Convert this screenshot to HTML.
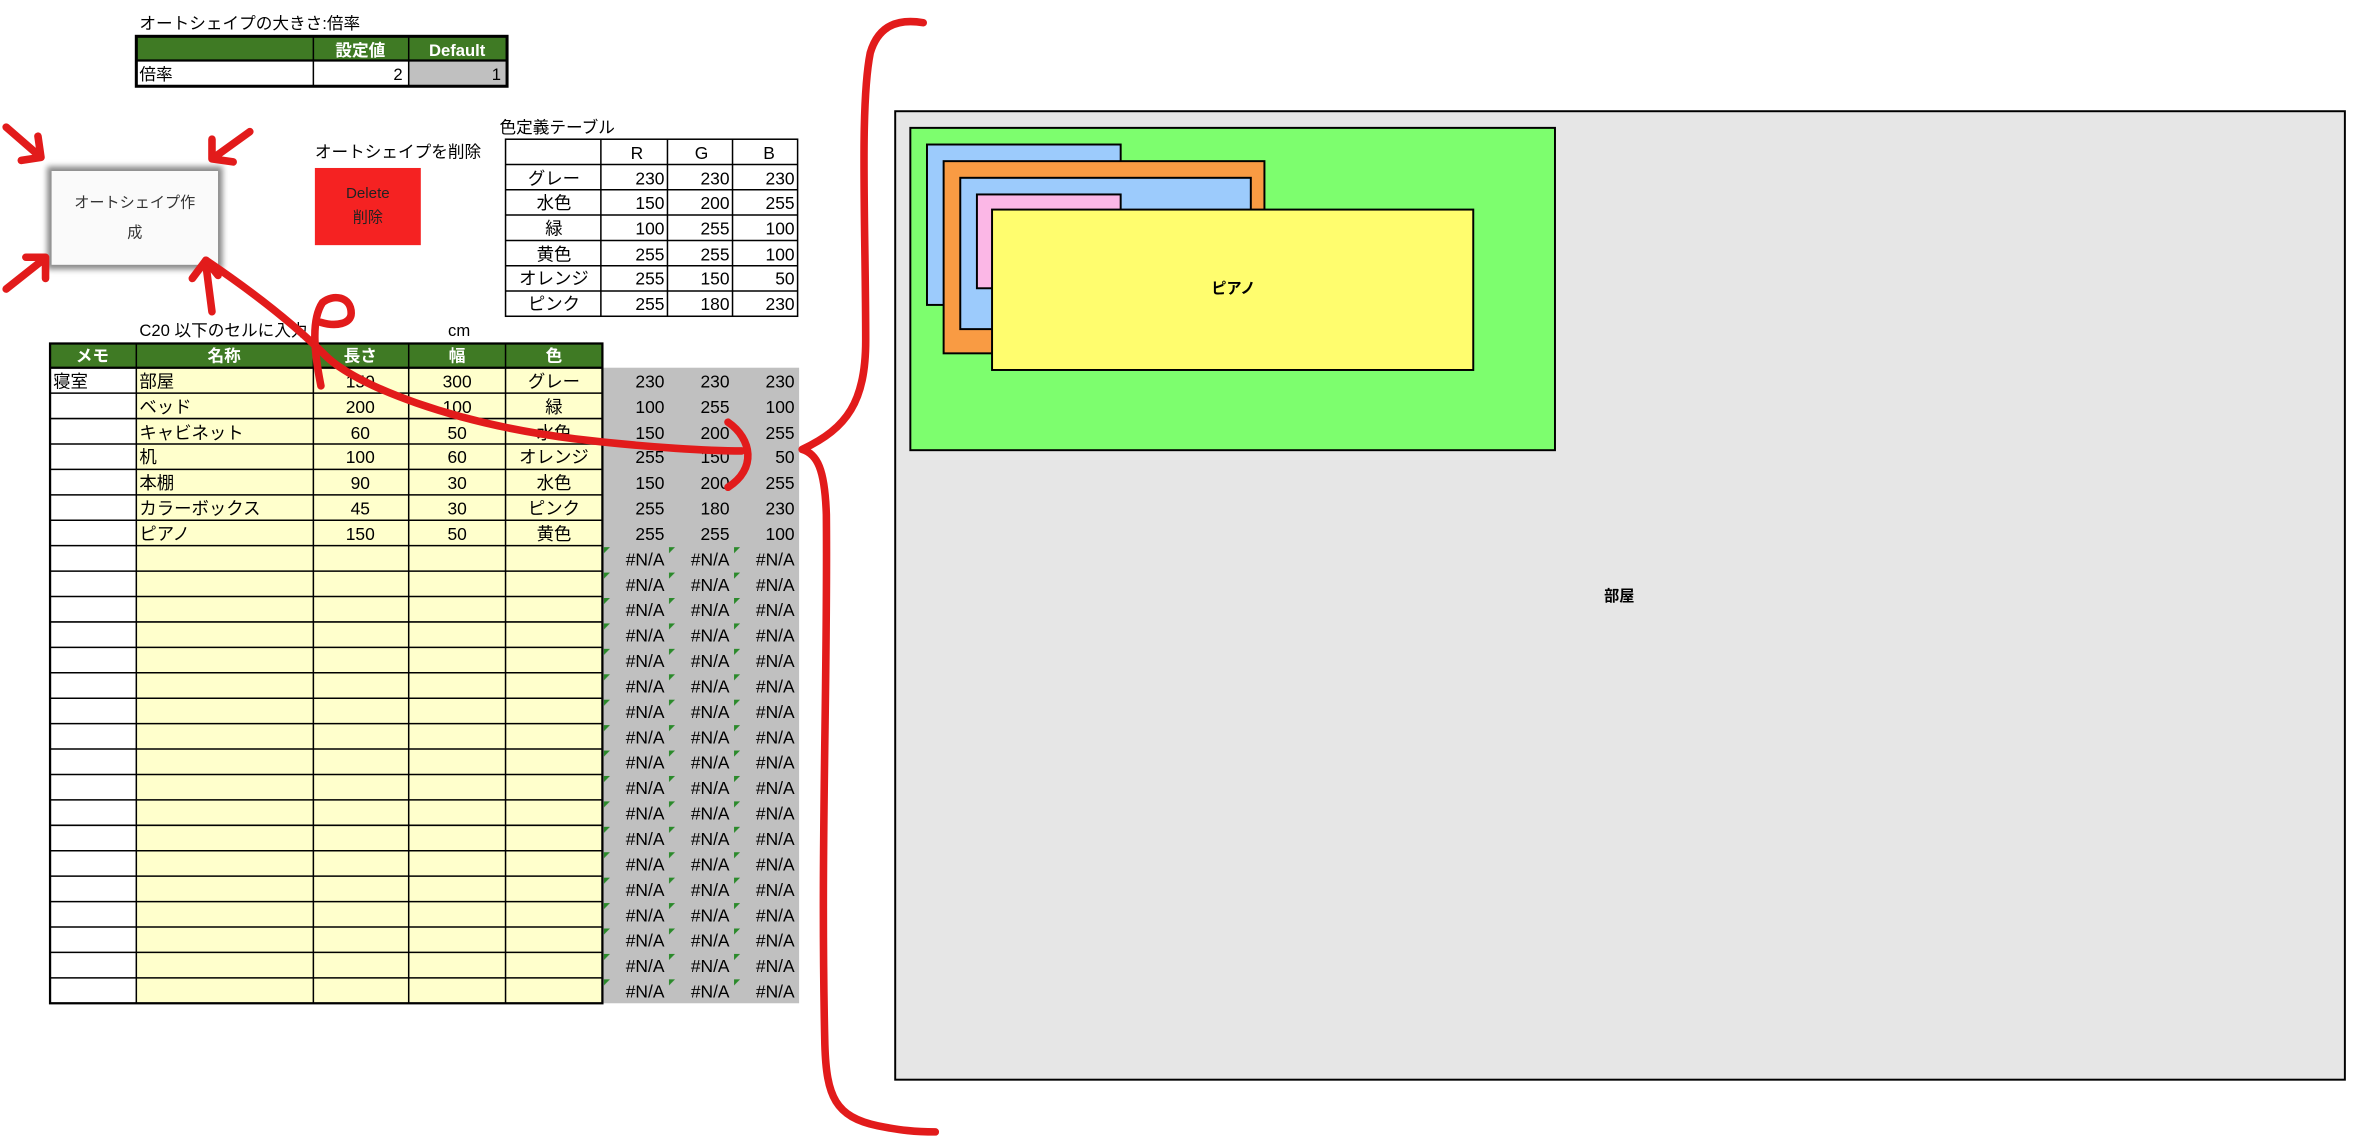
<!DOCTYPE html>
<html><head><meta charset="utf-8">
<style>
html,body{margin:0;padding:0;background:#fff;}
svg{display:block;font-family:"Liberation Sans","Noto Sans CJK JP",sans-serif;}
</style></head>
<body>
<svg width="2373" height="1144" viewBox="0 0 1568 756" xmlns="http://www.w3.org/2000/svg">
<defs>
<filter id="sh" x="-20%" y="-20%" width="140%" height="140%"><feGaussianBlur stdDeviation="2"/></filter>
<pattern id="tri" x="398" y="360.6" width="43" height="16.8" patternUnits="userSpaceOnUse">
<path d="M1 1h4l-4 4z" fill="#2a8a2a"/>
</pattern>
</defs>
<rect width="1568" height="756" fill="#fff"/>

<!-- Table 1 -->
<text x="92" y="19" font-size="11">オートシェイプの大きさ:倍率</text>
<rect x="90" y="24" width="245" height="16" fill="#3f7a24"/>
<rect x="270" y="40" width="65" height="17" fill="#c0c0c0"/>
<g stroke="#000" fill="none">
<rect x="90" y="24" width="245" height="33" stroke-width="2"/>
<line x1="90" y1="40" x2="335" y2="40" stroke-width="1.5"/>
<line x1="207" y1="24" x2="207" y2="57"/>
<line x1="270" y1="24" x2="270" y2="57"/>
</g>
<text x="238" y="37" font-size="11" fill="#fff" font-weight="bold" text-anchor="middle">設定値</text>
<text x="302" y="37" font-size="11" fill="#fff" font-weight="bold" text-anchor="middle">Default</text>
<text x="92" y="53" font-size="11">倍率</text>
<text x="266" y="53" font-size="11" text-anchor="end">2</text>
<text x="331" y="53" font-size="11" text-anchor="end">1</text>

<!-- Autoshape button -->
<rect x="31" y="110" width="116" height="68" fill="#888" filter="url(#sh)"/>
<rect x="34" y="113" width="110" height="62" fill="#fafafa"/>
<text x="89" y="137" font-size="10" text-anchor="middle" fill="#333">オートシェイプ作</text>
<text x="89" y="157" font-size="10" text-anchor="middle" fill="#333">成</text>

<!-- Delete -->
<text x="208" y="104" font-size="11">オートシェイプを削除</text>
<rect x="208" y="111" width="70" height="51" fill="#f52222"/>
<text x="243" y="131" font-size="10" text-anchor="middle" fill="#222">Delete</text>
<text x="243" y="147" font-size="10" text-anchor="middle" fill="#222">削除</text>

<!-- Color table -->
<text x="330" y="88" font-size="11">色定義テーブル</text>
<g font-size="11.5" text-anchor="end">
<text x="425" y="105">R</text><text x="468" y="105">G</text><text x="512" y="105">B</text>
<g text-anchor="middle"><text x="366" y="122">グレー</text><text x="366" y="138">水色</text><text x="366" y="155">緑</text><text x="366" y="172">黄色</text><text x="366" y="188">オレンジ</text><text x="366" y="205">ピンク</text></g>
<text x="439" y="122">230</text><text x="482" y="122">230</text><text x="525" y="122">230</text>
<text x="439" y="138">150</text><text x="482" y="138">200</text><text x="525" y="138">255</text>
<text x="439" y="155">100</text><text x="482" y="155">255</text><text x="525" y="155">100</text>
<text x="439" y="172">255</text><text x="482" y="172">255</text><text x="525" y="172">100</text>
<text x="439" y="188">255</text><text x="482" y="188">150</text><text x="525" y="188">50</text>
<text x="439" y="205">255</text><text x="482" y="205">180</text><text x="525" y="205">230</text>
</g>
<g stroke="#000" fill="none" stroke-width="1">
<rect x="334" y="92" width="193" height="117"/>
<line x1="334" y1="108.7" x2="527" y2="108.7"/><line x1="334" y1="125.4" x2="527" y2="125.4"/>
<line x1="334" y1="142.1" x2="527" y2="142.1"/><line x1="334" y1="158.9" x2="527" y2="158.9"/>
<line x1="334" y1="175.6" x2="527" y2="175.6"/><line x1="334" y1="192.3" x2="527" y2="192.3"/>
<line x1="397" y1="92" x2="397" y2="209"/><line x1="441" y1="92" x2="441" y2="209"/><line x1="484" y1="92" x2="484" y2="209"/>
</g>

<!-- Main table -->
<text x="92" y="222" font-size="11">C20  以下のセルに入力</text>
<text x="296" y="222" font-size="11">cm</text>
<rect x="33" y="227" width="365" height="16" fill="#3f7a24"/>
<rect x="90" y="243" width="308" height="420" fill="#ffffcc"/>
<rect x="33" y="243" width="57" height="420" fill="#fff"/>
<rect x="398" y="243" width="130" height="420" fill="#c0c0c0"/>
<rect x="398" y="360.6" width="129" height="302.4" fill="url(#tri)"/>
<g font-size="11" fill="#fff" font-weight="bold" text-anchor="middle">
<text x="61" y="239">メモ</text><text x="148" y="239">名称</text><text x="238" y="239">長さ</text><text x="302" y="239">幅</text><text x="366" y="239">色</text>
</g>
<g stroke="#000" fill="none" stroke-width="1">
<rect x="33" y="227" width="365" height="436" stroke-width="1.5"/>
<line x1="33" y1="243" x2="398" y2="243" stroke-width="1.5"/>
<line x1="90" y1="227" x2="90" y2="663"/><line x1="207" y1="227" x2="207" y2="663"/>
<line x1="270" y1="227" x2="270" y2="663"/><line x1="334" y1="227" x2="334" y2="663"/>
<path d="M33 259.8H398M33 276.6H398M33 293.4H398M33 310.2H398M33 327H398M33 343.8H398M33 360.6H398M33 377.4H398M33 394.2H398M33 411H398M33 427.8H398M33 444.6H398M33 461.4H398M33 478.2H398M33 495H398M33 511.8H398M33 528.6H398M33 545.4H398M33 562.2H398M33 579H398M33 595.8H398M33 612.6H398M33 629.4H398M33 646.2H398"/>
</g>
<g font-size="11.5">
<text x="35" y="256">寝室</text>
<text x="92" y="256">部屋</text><text x="92" y="273">ベッド</text><text x="92" y="290">キャビネット</text><text x="92" y="306">机</text><text x="92" y="323">本棚</text><text x="92" y="340">カラーボックス</text><text x="92" y="357">ピアノ</text>
<g text-anchor="middle">
<text x="238" y="256">150</text><text x="238" y="273">200</text><text x="238" y="290">60</text><text x="238" y="306">100</text><text x="238" y="323">90</text><text x="238" y="340">45</text><text x="238" y="357">150</text>
<text x="302" y="256">300</text><text x="302" y="273">100</text><text x="302" y="290">50</text><text x="302" y="306">60</text><text x="302" y="323">30</text><text x="302" y="340">30</text><text x="302" y="357">50</text>
<text x="366" y="256">グレー</text><text x="366" y="273">緑</text><text x="366" y="290">水色</text><text x="366" y="306">オレンジ</text><text x="366" y="323">水色</text><text x="366" y="340">ピンク</text><text x="366" y="357">黄色</text>
</g>
<g text-anchor="end">
<text x="439" y="256">230</text><text x="482" y="256">230</text><text x="525" y="256">230</text>
<text x="439" y="273">100</text><text x="482" y="273">255</text><text x="525" y="273">100</text>
<text x="439" y="290">150</text><text x="482" y="290">200</text><text x="525" y="290">255</text>
<text x="439" y="306">255</text><text x="482" y="306">150</text><text x="525" y="306">50</text>
<text x="439" y="323">150</text><text x="482" y="323">200</text><text x="525" y="323">255</text>
<text x="439" y="340">255</text><text x="482" y="340">180</text><text x="525" y="340">230</text>
<text x="439" y="357">255</text><text x="482" y="357">255</text><text x="525" y="357">100</text>
</g>
</g>
<g font-size="11.5" text-anchor="end">
<text x="439" y="373.6"><tspan x="439">#N/A</tspan><tspan x="439" dy="16.8">#N/A</tspan><tspan x="439" dy="16.8">#N/A</tspan><tspan x="439" dy="16.8">#N/A</tspan><tspan x="439" dy="16.8">#N/A</tspan><tspan x="439" dy="16.8">#N/A</tspan><tspan x="439" dy="16.8">#N/A</tspan><tspan x="439" dy="16.8">#N/A</tspan><tspan x="439" dy="16.8">#N/A</tspan><tspan x="439" dy="16.8">#N/A</tspan><tspan x="439" dy="16.8">#N/A</tspan><tspan x="439" dy="16.8">#N/A</tspan><tspan x="439" dy="16.8">#N/A</tspan><tspan x="439" dy="16.8">#N/A</tspan><tspan x="439" dy="16.8">#N/A</tspan><tspan x="439" dy="16.8">#N/A</tspan><tspan x="439" dy="16.8">#N/A</tspan><tspan x="439" dy="16.8">#N/A</tspan></text>
<text x="482" y="373.6"><tspan x="482">#N/A</tspan><tspan x="482" dy="16.8">#N/A</tspan><tspan x="482" dy="16.8">#N/A</tspan><tspan x="482" dy="16.8">#N/A</tspan><tspan x="482" dy="16.8">#N/A</tspan><tspan x="482" dy="16.8">#N/A</tspan><tspan x="482" dy="16.8">#N/A</tspan><tspan x="482" dy="16.8">#N/A</tspan><tspan x="482" dy="16.8">#N/A</tspan><tspan x="482" dy="16.8">#N/A</tspan><tspan x="482" dy="16.8">#N/A</tspan><tspan x="482" dy="16.8">#N/A</tspan><tspan x="482" dy="16.8">#N/A</tspan><tspan x="482" dy="16.8">#N/A</tspan><tspan x="482" dy="16.8">#N/A</tspan><tspan x="482" dy="16.8">#N/A</tspan><tspan x="482" dy="16.8">#N/A</tspan><tspan x="482" dy="16.8">#N/A</tspan></text>
<text x="525" y="373.6"><tspan x="525">#N/A</tspan><tspan x="525" dy="16.8">#N/A</tspan><tspan x="525" dy="16.8">#N/A</tspan><tspan x="525" dy="16.8">#N/A</tspan><tspan x="525" dy="16.8">#N/A</tspan><tspan x="525" dy="16.8">#N/A</tspan><tspan x="525" dy="16.8">#N/A</tspan><tspan x="525" dy="16.8">#N/A</tspan><tspan x="525" dy="16.8">#N/A</tspan><tspan x="525" dy="16.8">#N/A</tspan><tspan x="525" dy="16.8">#N/A</tspan><tspan x="525" dy="16.8">#N/A</tspan><tspan x="525" dy="16.8">#N/A</tspan><tspan x="525" dy="16.8">#N/A</tspan><tspan x="525" dy="16.8">#N/A</tspan><tspan x="525" dy="16.8">#N/A</tspan><tspan x="525" dy="16.8">#N/A</tspan><tspan x="525" dy="16.8">#N/A</tspan></text>
</g>

<!-- Room -->
<rect x="591.5" y="73.5" width="958" height="640" fill="#e6e6e6" stroke="#000" stroke-width="1.3"/>
<text x="1070" y="397" font-size="10" font-weight="bold" text-anchor="middle">部屋</text>
<rect x="601.5" y="84.5" width="426" height="213" fill="#7dfe6e" stroke="#000" stroke-width="1.3"/>
<rect x="612.5" y="95.5" width="128" height="106" fill="#9ccbfc" stroke="#000" stroke-width="1.3"/>
<rect x="623.5" y="106.5" width="212" height="127" fill="#f99b43" stroke="#000" stroke-width="1.3"/>
<rect x="634.5" y="117.5" width="192" height="100" fill="#9ccbfc" stroke="#000" stroke-width="1.3"/>
<rect x="645.5" y="128.5" width="95" height="62" fill="#fbb7e6" stroke="#000" stroke-width="1.3"/>
<rect x="655.5" y="138.5" width="318" height="106" fill="#fffd6e" stroke="#000" stroke-width="1.3"/>
<text x="815" y="194" font-size="10" font-weight="bold" text-anchor="middle">ピアノ</text>

<!-- Red annotations -->
<g stroke="#e21b1b" stroke-width="5" fill="none" stroke-linecap="round" stroke-linejoin="round">
<path d="M4 84 L27 104 M14 106 L27 104 L25 90"/>
<path d="M165 87 L140 105 M140 92 L140 105 L154 107"/>
<path d="M4 191 L28 172 M17 170 L30 170 L30 184"/>
<path d="M140 206 L136 175 M127 184 L136 172 L144 182"/>
<path d="M136 172 C170 195 195 215 215 235 C235 255 300 280 380 290 C430 296 470 298 490 298"/>
<path d="M481 279 C497 290 500 310 481 322"/>
<path d="M212 255 C208 235 205 212 213 200 C220 194 232 196 232 207 C232 214 222 216 212 213"/>
<path d="M610 15 C592 12 580 18 575 35 C568 70 572 150 572 225 C572 265 560 283 530 297 M530 297 C540 300 545 310 546 340 C547 450 542 560 545 690 C546 725 552 738 580 744 C595 747 605 748 618 748"/>
</g>
</svg>
</body></html>
